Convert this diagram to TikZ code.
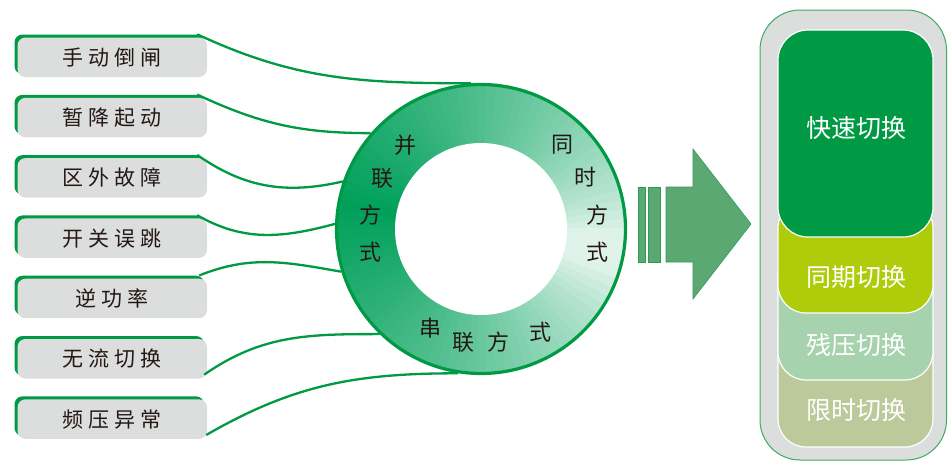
\documentclass[tikz,border=0pt]{standalone}
\usepackage{fontspec}
\newfontfamily\cjk{Noto Sans CJK SC}
\newfontfamily\cjkls[LetterSpace=24]{Noto Sans CJK SC}
\usetikzlibrary{shadows}
\definecolor{lgreen}{HTML}{009944}
\definecolor{boxgray}{HTML}{DCDDDD}
\definecolor{txt}{HTML}{231815}
\definecolor{ringdark}{RGB}{0,160,90}
\definecolor{arrowfill}{HTML}{5BA873}
\definecolor{arrowline}{HTML}{2E9B55}
\definecolor{yg}{HTML}{AFCC0A}
\definecolor{lg}{HTML}{A6D3AE}
\definecolor{kh}{HTML}{BCC99B}
\definecolor{outerline}{HTML}{3DAA66}
\begin{document}
\begin{tikzpicture}[x=1pt,y=1pt,
  lbl/.style={fill=boxgray, rounded corners=8pt, minimum width=189.5pt, minimum height=39.5pt,
    inner sep=0pt, text=txt, font={\cjkls\fontsize{21}{24}\selectfont},
    general shadow={fill=lgreen, shadow xshift=-3pt, shadow yshift=3pt}},
  conn/.style={draw=lgreen, line width=2.3pt},
  ringtxt/.style={text=txt, font={\cjk\fontsize{22}{24}\selectfont}, inner sep=0pt},
  stk/.style={draw=white, line width=1.2pt, rounded corners=28pt},
  stktxt/.style={text=white, font={\cjk\fontsize{25}{28}\selectfont}, inner sep=0pt}
]
\useasboundingbox (0,0) rectangle (948,-461);

% left labels
\node[lbl] (l1) at (112.25,-57.25) {手动倒闸};
\node[lbl] (l2) at (112.25,-117.55) {暂降起动};
\node[lbl] (l3) at (112.25,-177.85) {区外故障};
\node[lbl] (l4) at (112.25,-238.15) {开关误跳};
\node[lbl] (l5) at (112.25,-298.45) {逆功率};
\node[lbl] (l6) at (112.25,-358.75) {无流切换};
\node[lbl] (l7) at (112.25,-419.05) {频压异常};

% ring shading
\begin{scope}[shift={(481,-229)}]
\foreach \a in {0,4,...,356}{
  \pgfmathsetmacro\d{abs(mod(\a+2-170+540,360)-180)}
  \pgfmathsetmacro\p{100*(max(1-\d/180,0.04))^0.65}
  \fill[ringdark!\p!white] (\a:145pt) arc[start angle=\a, end angle=\a+4.6, radius=145pt]
     -- (\a+4.6:85pt) arc[start angle=\a+4.6, end angle=\a, radius=85pt] -- cycle;
}
\end{scope}
\node[circle, fill=white, minimum size=172pt, inner sep=0pt] (hole) at (481,-229) {};
\node[circle, draw=lgreen, line width=3.2pt, minimum size=289pt, inner sep=0pt] (ring) at (481,-229) {};

% ring texts
\node[ringtxt] (a1) at (405,-145) {并};
\node[ringtxt] (a2) at (382,-178) {联};
\node[ringtxt] (a3) at (370,-215) {方};
\node[ringtxt] (a4) at (370,-252) {式};
\node[ringtxt] (b1) at (562,-145) {同};
\node[ringtxt] (b2) at (585,-177) {时};
\node[ringtxt] (b3) at (597,-215) {方};
\node[ringtxt] (b4) at (597,-252) {式};
\node[ringtxt] (c1) at (430,-328) {串};
\node[ringtxt] (c2) at (463,-342) {联};
\node[ringtxt] (c3) at (498,-342) {方};
\node[ringtxt] (c4) at (540,-332) {式};

% connectors
\draw[conn] ([shift={(-10pt,3pt)}]l1.north east) to[out=-25,in=180] (ring.94);
\draw[conn] ([shift={(-10pt,3pt)}]l2.north east) to[out=-25,in=180] (ring.139);
\draw[conn] ([shift={(-10pt,3pt)}]l3.north east) to[out=-35,in=193] (ring.161.6);
\draw[conn] ([shift={(-10pt,3pt)}]l4.north east) to[out=-30,in=195] (ring.178.4);
\draw[conn] ([shift={(-8pt,3pt)}]l5.north east) to[out=22,in=170] (ring.197);
\draw[conn] ([shift={(-3pt,4pt)}]l6.south east) to[out=35,in=180] (ring.226.6);
\draw[conn] ([shift={(-1pt,4pt)}]l7.south east) to[out=30,in=180] (ring.261.8);

% arrow
\fill[arrowfill, draw=arrowline, line width=0.6pt] (638,-187) rectangle (645,-262);
\fill[arrowfill, draw=arrowline, line width=0.6pt] (648,-187) rectangle (660,-262);
\filldraw[fill=arrowfill, draw=arrowline, line width=0.6pt] (666,-187) -- (693,-187) -- (693,-149)
  -- (751,-224) -- (693,-299) -- (693,-262) -- (666,-262) -- cycle;

% right column
\filldraw[fill=boxgray, draw=outerline, line width=1pt, rounded corners=40pt] (760,-10) rectangle (946.5,-460);
\filldraw[stk, fill=kh] (778,-300) rectangle (933,-447);
\filldraw[stk, fill=lg] (778,-250) rectangle (933,-380);
\filldraw[stk, fill=yg] (778,-200) rectangle (933,-313);
\filldraw[stk, fill=lgreen, rounded corners=30pt] (778,-30) rectangle (933,-237);
\node[stktxt] (s1) at (856,-128) {快速切换};
\node[stktxt] (s2) at (856,-277) {同期切换};
\node[stktxt] (s3) at (856,-345) {残压切换};
\node[stktxt] (s4) at (856,-410) {限时切换};
\end{tikzpicture}
\end{document}
